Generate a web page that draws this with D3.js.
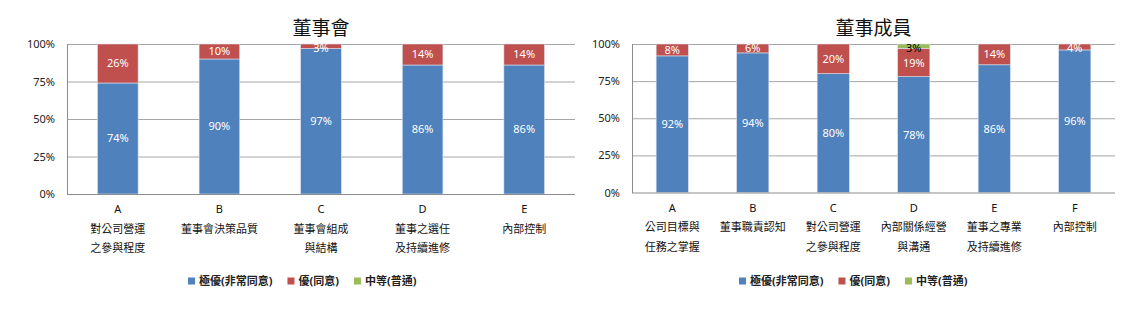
<!DOCTYPE html>
<html>
<head>
<meta charset="utf-8">
<script src="https://cdn.jsdelivr.net/npm/d3@7"></script>
<style>
body { margin: 0; background: #fff; }
text { font-family: "Noto Sans", "Noto Sans CJK TC", sans-serif; }
</style>
</head>
<body>
<div id="chart"></div>
<script>
// data
var seriesNames = ["極優(非常同意)", "優(同意)", "中等(普通)"];
var seriesColors = ["#4f81bd", "#c0504d", "#9bbb59"];
var tickValues = [0, 25, 50, 75, 100];

var boardCats = ["A", "B", "C", "D", "E"];
var boardNames = [["對公司營運", "之參與程度"], ["董事會決策品質"], ["董事會組成", "與結構"], ["董事之選任", "及持續進修"], ["內部控制"]];
var boardTop = [74, 90, 97, 86, 86];
var boardGood = [26, 10, 3, 14, 14];
var boardMid = [0, 0, 0, 0, 0];

var memberCats = ["A", "B", "C", "D", "E", "F"];
var memberNames = [["公司目標與", "任務之掌握"], ["董事職責認知"], ["對公司營運", "之參與程度"], ["內部關係經營", "與溝通"], ["董事之專業", "及持續進修"], ["內部控制"]];
var memberTop = [92, 94, 80, 78, 86, 96];
var memberGood = [8, 6, 20, 19, 14, 4];
var memberMid = [0, 0, 0, 3, 0, 0];

var svg = d3.select("#chart").append("svg")
	.attr("width", 1140)
	.attr("height", 309);

function draw_chart(title, cats, names, top, good, mid, box, legendX)
{
	var rows = cats.map(function(c, i) {
		return { cat: c, s0: top[i], s1: good[i], s2: mid[i] };
	});
	var stack = d3.stack().keys(["s0", "s1", "s2"])(rows);

	var x = d3.scaleBand().domain(cats).range([box.left, box.right]).paddingInner(0.6).paddingOuter(0.3);
	var y = d3.scaleLinear().domain([0, 100]).range([box.bottom, box.top]);

	var g = svg.append("g");

	// gridlines
	g.selectAll(".grid").data(tickValues.slice(1)).enter().append("line")
		.attr("x1", box.left).attr("x2", box.right)
		.attr("y1", function(d) { return y(d) + 0.5; })
		.attr("y2", function(d) { return y(d) + 0.5; })
		.attr("stroke", "#a6a6a6").attr("stroke-width", 1);

	// tick labels
	var yAxis = d3.axisLeft(y).tickValues(tickValues).tickSize(0).tickPadding(0)
		.tickFormat(function(d) { return d + "%"; });
	var ax = g.append("g").attr("transform", "translate(" + (box.left - 12) + ",0)").call(yAxis);
	ax.select(".domain").remove();
	ax.selectAll("text").attr("font-size", 11).attr("fill", "#222")
		.style("font-family", "'Noto Sans', sans-serif");

	// bars
	var layers = g.selectAll(".layer").data(stack).enter().append("g")
		.attr("fill", function(d, i) { return seriesColors[i]; });
	layers.selectAll("rect").data(function(d) { return d; }).enter().append("rect")
		.attr("x", function(d) { return x(d.data.cat); })
		.attr("width", x.bandwidth())
		.attr("y", function(d) { return y(d[1]); })
		.attr("height", function(d) { return y(d[0]) - y(d[1]); })
		.attr("stroke", "#d9e2ee").attr("stroke-width", 0.6);

	// axes lines
	g.append("line").attr("x1", box.left + 0.5).attr("x2", box.left + 0.5)
		.attr("y1", box.top).attr("y2", box.bottom + 0.5).attr("stroke", "#8c8c8c");
	g.append("line").attr("x1", box.left).attr("x2", box.right)
		.attr("y1", box.bottom + 0.5).attr("y2", box.bottom + 0.5).attr("stroke", "#8c8c8c");

	// data labels (small ones at the top are kept inside the plot area)
	stack.forEach(function(layer, i) {
		g.selectAll(".l" + i).data(layer.filter(function(d) { return d[1] - d[0] > 0; })).enter().append("text")
			.attr("x", function(d) { return x(d.data.cat) + x.bandwidth() / 2; })
			.attr("y", function(d) { return Math.max((y(d[0]) + y(d[1])) / 2, box.top + 4); })
			.attr("dy", "0.36em")
			.attr("text-anchor", "middle")
			.attr("font-size", 11)
			.attr("fill", i == 2 ? "#000" : "#fff")
			.text(function(d) { return (d[1] - d[0]) + "%"; });
	});

	// category labels
	cats.forEach(function(c, i) {
		var lines = [c].concat(names[i]);
		var t = g.append("text")
			.attr("text-anchor", "middle")
			.attr("font-size", 11)
			.attr("fill", "#111");
		lines.forEach(function(s, j) {
			t.append("tspan")
				.attr("x", x(c) + x.bandwidth() / 2)
				.attr("y", box.bottom + 15.5 + j * 19.4)
				.attr("dy", "0.36em")
				.text(s);
		});
	});

	// title
	g.append("text")
		.attr("x", (box.left + box.right) / 2)
		.attr("y", 28.5)
		.attr("dy", "0.36em")
		.attr("text-anchor", "middle")
		.attr("font-size", 19)
		.attr("fill", "#111")
		.style("font-family", "'Noto Sans CJK TC', sans-serif")
		.text(title);

	// legend
	var lx = legendX;
	seriesNames.forEach(function(s, i) {
		g.append("rect").attr("x", lx).attr("y", 277.5).attr("width", 7).attr("height", 7)
			.attr("fill", seriesColors[i]);
		var t = g.append("text").attr("x", lx + 11).attr("y", 281).attr("dy", "0.36em")
			.attr("font-size", 11).attr("font-weight", "bold").attr("fill", "#222").text(s);
		lx += 11 + t.node().getComputedTextLength() + 15;
	});
}

draw_chart("董事會", boardCats, boardNames, boardTop, boardGood, boardMid,
	{ left: 67, right: 575, top: 44, bottom: 194 }, 188);
draw_chart("董事成員", memberCats, memberNames, memberTop, memberGood, memberMid,
	{ left: 632, right: 1115, top: 44, bottom: 192.5 }, 739);
</script>
</body>
</html>
